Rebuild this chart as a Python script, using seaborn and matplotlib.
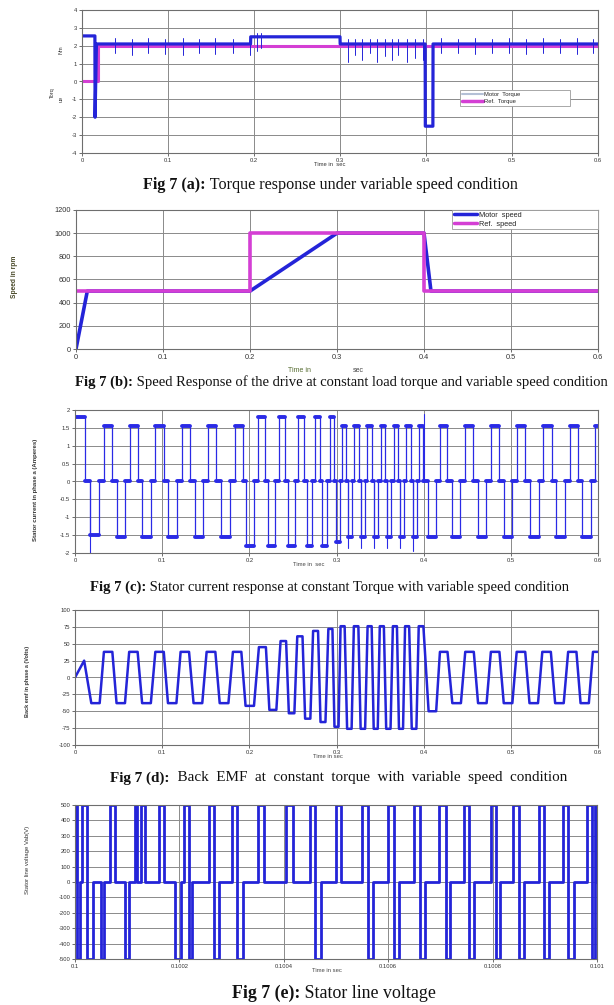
import numpy as np
import pandas as pd
import matplotlib
matplotlib.use("Agg")
import matplotlib.pyplot as plt
from matplotlib.lines import Line2D
import seaborn as sns

# ---------------- data ----------------
# (a) torque response (Nm vs s)
torque_base_t = [0.0, 0.015, 0.0152, 0.0168, 0.196, 0.1962, 0.300, 0.3002, 0.399, 0.3992, 0.408, 0.4082, 0.6]
torque_base_v = [2.55, 2.55, -2.0, 2.1, 2.1, 2.5, 2.5, 2.1, 2.1, -2.5, -2.5, 2.1, 2.1]
torque_spike_t = [0.038, 0.058, 0.077, 0.097, 0.117, 0.136, 0.155, 0.175, 0.195,
                  0.203, 0.208,
                  0.309, 0.318, 0.326, 0.335, 0.343, 0.352, 0.361, 0.368, 0.378, 0.387, 0.396,
                  0.4176, 0.4373, 0.4569, 0.4766, 0.4963, 0.5160, 0.5356, 0.5553, 0.5750, 0.5947]
torque_spike_lo = [1.6, 1.5, 1.6, 1.55, 1.5, 1.6, 1.55, 1.6, 1.5,
                   1.7, 1.9,
                   1.1, 1.5, 1.2, 1.6, 1.1, 1.4, 1.2, 1.5, 1.1, 1.3, 1.2,
                   1.6, 1.6, 1.55, 1.6, 1.6, 1.55, 1.6, 1.6, 1.55, 1.6]
torque_spike_hi = [2.45, 2.4, 2.45, 2.4, 2.45, 2.4, 2.45, 2.4, 2.45,
                   2.7, 2.7,
                   2.4, 2.35, 2.4, 2.35, 2.4, 2.35, 2.4, 2.35, 2.4, 2.35, 2.4,
                   2.45, 2.4, 2.45, 2.4, 2.45, 2.4, 2.45, 2.4, 2.45, 2.4]
ref_torque_t = [0.0, 0.019, 0.019, 0.6]
ref_torque_v = [0.0, 0.0, 2.0, 2.0]

# (b) speed response (rpm vs s)
speed_t = [0.0, 0.013, 0.2, 0.3, 0.4, 0.408, 0.6]
speed_v = [0, 500, 500, 1000, 1000, 500, 500]
ref_speed_t = [0.0, 0.2, 0.2, 0.4, 0.4, 0.6]
ref_speed_v = [500, 500, 1000, 1000, 500, 500]

# (c) stator current: centre time of each positive block, its level, level of following negative block
cur_top_t = [0.006, 0.038, 0.0676, 0.097, 0.1276, 0.157, 0.188,
             0.214, 0.2375, 0.2595, 0.2785, 0.2945,
             0.3085, 0.323, 0.338, 0.353, 0.368, 0.3825, 0.397,
             0.4225, 0.452, 0.482, 0.5115, 0.542, 0.5725, 0.601]
cur_top_v = [1.8, 1.55, 1.55, 1.55, 1.55, 1.55, 1.55,
             1.8, 1.8, 1.8, 1.8, 1.8,
             1.55, 1.55, 1.55, 1.55, 1.55, 1.55, 1.55,
             1.55, 1.55, 1.55, 1.55, 1.55, 1.55, 1.55]
cur_bot_v = [-1.5, -1.55, -1.55, -1.55, -1.55, -1.55, -1.8,
             -1.8, -1.8, -1.8, -1.8, -1.7,
             -1.55, -1.55, -1.55, -1.55, -1.55, -1.55, -1.55,
             -1.55, -1.55, -1.55, -1.55, -1.55, -1.55, -1.55]
cur_spike_t = [0.0168, 0.3135, 0.3285, 0.3435, 0.3585, 0.3730, 0.3875, 0.4000]
cur_spike_v = [-2.0, -1.85, -1.85, -1.85, -1.85, -1.85, -1.95, 1.9]

# (d) back EMF: start, then centre of each positive plateau, its level, level of following negative plateau
emf_pre_t = [0.0, 0.0105, 0.0187, 0.0283]
emf_pre_v = [0, 25, -38, -38]
emf_top_t = [0.038, 0.067, 0.097, 0.126, 0.156, 0.186,
             0.215, 0.239, 0.258, 0.276, 0.293,
             0.307, 0.3225, 0.338, 0.352, 0.367, 0.381, 0.397,
             0.423, 0.4526, 0.482, 0.5116, 0.541, 0.5705, 0.599]
emf_top_v = [38, 38, 38, 38, 38, 38,
             45, 54, 61, 69, 72,
             76, 76, 76, 76, 76, 76, 76,
             38, 38, 38, 38, 38, 38, 38]
emf_bot_v = [-38, -38, -38, -38, -38, -42,
             -48, -53, -61, -66, -73,
             -76, -76, -76, -76, -76, -76, -50,
             -38, -38, -38, -38, -38, -38, -38]

# (e) stator line voltage: pulses (start in microseconds after 0.1 s, width in microseconds)
pos_pulse_start = [0, 13, 67, 114, 126, 161, 209, 256, 300, 351, 405, 450, 500, 550,
                   600, 650, 698, 745, 796, 840, 889, 935, 980, 997]
pos_pulse_width = [4, 10, 10, 5, 8, 10, 10, 11, 10, 11, 12, 10, 10, 12,
                   12, 11, 12, 10, 10, 10, 9, 10, 10, 3]
neg_pulse_start = [4, 23, 49, 95, 192, 219, 267, 310, 460, 562, 612, 661,
                   710, 755, 806, 850, 898, 945, 990]
neg_pulse_width = [6, 12, 6, 8, 12, 6, 8, 12, 12, 8, 8, 10,
                   8, 10, 8, 10, 10, 10, 7]
dc_level = 500

# axes ticks
a_yticks = [-4, -3, -2, -1, 0, 1, 2, 3, 4]
b_yticks = [0, 200, 400, 600, 800, 1000, 1200]
c_yticks = [-2, -1.5, -1, -0.5, 0, 0.5, 1, 1.5, 2]
c_ylabels = ["-2", "-1.5", "-1", "-0.5", "0", "0.5", "1", "1.5", "2"]
d_yticks = [-100, -75, -50, -25, 0, 25, 50, 75, 100]
e_yticks = [-500, -400, -300, -200, -100, 0, 100, 200, 300, 400, 500]
t_ticks = [0, 0.1, 0.2, 0.3, 0.4, 0.5, 0.6]
t_labels = ["0", "0.1", "0.2", "0.3", "0.4", "0.5", "0.6"]
e_xticks = [0.1, 0.1002, 0.1004, 0.1006, 0.1008, 0.101]
e_xlabels = ["0.1", "0.1002", "0.1004", "0.1006", "0.1008", "0.101"]

cap_bold = ["Fig 7 (a):", "Fig 7 (b):", "Fig 7 (c):", "Fig 7 (d):", "Fig 7 (e):"]
cap_rest = [" Torque response under variable speed condition",
            " Speed Response of the drive at constant load torque and variable speed condition",
            " Stator current response at constant Torque with variable speed condition",
            "  Back  EMF  at  constant  torque  with  variable  speed  condition",
            " Stator line voltage"]

# ---------------- style ----------------
sns.set_theme(style="white")
plt.rcParams["font.family"] = ["Liberation Sans", "DejaVu Sans"]
BLUE = "#2424d8"
MAG = "#d43fd4"
GRID = "#8a8a8a"

W, H = 614, 1005
fig = plt.figure(figsize=(W / 100, H / 100), dpi=100)
fig.patch.set_facecolor("white")


def ax_at(l, t, r, b):
    return fig.add_axes([l / W, 1 - b / H, (r - l) / W, (b - t) / H])


def ftext(x, y, s, **kw):
    return fig.text(x / W, 1 - y / H, s, **kw)


def style(ax, xlim, ylim, xt, xl, yt, yl, fs=4.5):
    ax.set_xlim(*xlim)
    ax.set_ylim(*ylim)
    ax.set_xticks(xt)
    ax.set_xticklabels(xl)
    ax.set_yticks(yt)
    ax.set_yticklabels(yl)
    ax.grid(True, color=GRID, lw=0.7)
    ax.set_axisbelow(True)
    for sp in ax.spines.values():
        sp.set_color("#6e6e6e")
        sp.set_linewidth(0.8)
    ax.tick_params(length=2, width=0.5, pad=1.5, labelsize=fs, colors="#333333",
                   bottom=True, left=True)
    ax.set_xlabel("")
    ax.set_ylabel("")


def segments_df(ts_lo_hi):
    rows = []
    for k, (t0, t1, y0, y1) in enumerate(ts_lo_hi):
        rows.append((k, t0, y0))
        rows.append((k, t1, y1))
    return pd.DataFrame(rows, columns=["id", "t", "v"])


# ---------------- (a) torque ----------------
axA = ax_at(82, 10, 598, 153)
sns.lineplot(x=ref_torque_t, y=ref_torque_v, ax=axA, sort=False, estimator=None, color=MAG, lw=2.2)
sns.lineplot(x=torque_base_t, y=torque_base_v, ax=axA, sort=False, estimator=None, color=BLUE, lw=2.3)
spk = segments_df([(t, t, lo, hi) for t, lo, hi in zip(torque_spike_t, torque_spike_lo, torque_spike_hi)])
sns.lineplot(data=spk, x="t", y="v", units="id", estimator=None, sort=False, ax=axA, color=BLUE, lw=0.7)
style(axA, (0, 0.6), (-4, 4), t_ticks, t_labels, a_yticks, [str(v) for v in a_yticks], fs=4.2)
axA.legend(handles=[Line2D([], [], color="#b4c0d6", lw=1.5), Line2D([], [], color=MAG, lw=2.5)],
           labels=["Motor  Torque", "Ref.  Torque"], loc="upper left",
           bbox_to_anchor=(0.727, 0.315, 0.225, 0.145), mode="expand", fontsize=4.2,
           frameon=True, fancybox=False, edgecolor="#9a9a9a", framealpha=1,
           handlelength=3.5, borderpad=0.35, labelspacing=0.35, handletextpad=0.3)
axA.get_legend().get_frame().set_linewidth(0.6)
ftext(330, 165, "Time in  sec", fontsize=4.2, ha="center", va="center", color="#333333")
ftext(52, 93, "Torq", fontsize=4, rotation=90, ha="center", va="center", color="#333333")
ftext(61, 99, "ue", fontsize=4, rotation=90, ha="center", va="center", color="#333333")
ftext(61, 50, "Nm", fontsize=4, rotation=90, ha="center", va="center", color="#333333")

# ---------------- (b) speed ----------------
axB = ax_at(76, 210, 598, 349)
sns.lineplot(x=speed_t, y=speed_v, ax=axB, sort=False, estimator=None, color=BLUE, lw=2.6)
sns.lineplot(x=ref_speed_t, y=ref_speed_v, ax=axB, sort=False, estimator=None, color=MAG, lw=2.6)
style(axB, (0, 0.6), (0, 1200), t_ticks, t_labels, b_yticks, [str(v) for v in b_yticks], fs=5.3)
axB.legend(handles=[Line2D([], [], color=BLUE, lw=2.5), Line2D([], [], color=MAG, lw=2.5)],
           labels=["Motor  speed", "Ref.  speed"], loc="upper left",
           bbox_to_anchor=(0.72, 1.0, 0.28, 0.0), mode="expand", fontsize=5.3,
           frameon=True, fancybox=False, edgecolor="#9a9a9a", framealpha=1,
           handlelength=3.2, borderpad=0.25, labelspacing=0.2, handletextpad=0.2,
           borderaxespad=0)
axB.get_legend().get_frame().set_linewidth(0.6)
ftext(300, 370, "Time in", fontsize=5, ha="center", va="center", color="#556b2f")
ftext(358, 370, "sec", fontsize=5, ha="center", va="center", color="#444444")
ftext(15, 277, "Speed in rpm", fontsize=4.8, rotation=90, ha="center", va="center",
      color="#4a4a2a", fontweight="bold")

# ---------------- (c) stator current ----------------
ct, cv = [0.0], [cur_top_v[0]]
n = len(cur_top_t)
for i in range(n):
    tc = cur_top_t[i]
    P = cur_top_t[i + 1] - tc if i < n - 1 else tc - cur_top_t[i - 1]
    Pp = tc - cur_top_t[i - 1] if i > 0 else P
    h = min(P, Pp) / 6
    hb = P / 6
    m = tc + P / 2
    if i > 0:
        ct += [tc - h, tc - h]
        cv += [0, cur_top_v[i]]
    ct += [tc + h, tc + h, m - hb, m - hb, m + hb, m + hb]
    cv += [cur_top_v[i], 0, 0, cur_bot_v[i], cur_bot_v[i], 0]
axC = ax_at(75, 410, 598, 553)
sns.lineplot(x=ct, y=cv, ax=axC, sort=False, estimator=None, color="#2a2ae6", lw=0.9)
flat = [(ct[k], ct[k + 1], cv[k], cv[k + 1]) for k in range(len(ct) - 1)
        if cv[k] == cv[k + 1] and ct[k + 1] > ct[k]]
sns.lineplot(data=segments_df(flat), x="t", y="v", units="id", estimator=None, sort=False,
             ax=axC, color="#2a2ae6", lw=2.8)
cs = segments_df([(t, t, 0, v) for t, v in zip(cur_spike_t, cur_spike_v)])
sns.lineplot(data=cs, x="t", y="v", units="id", estimator=None, sort=False, ax=axC,
             color="#2a2ae6", lw=0.8)
style(axC, (0, 0.6), (-2, 2), t_ticks, t_labels, c_yticks, c_ylabels, fs=4.2)
ftext(309, 565, "Time in  sec", fontsize=4.2, ha="center", va="center", color="#444444")
ftext(35, 490, "Stator current in phase a (Amperes)", fontsize=4.3, rotation=90,
      ha="center", va="center", color="#333333", fontweight="bold")

# ---------------- (d) back EMF ----------------
et, ev = list(emf_pre_t), list(emf_pre_v)
n = len(emf_top_t)
for i in range(n):
    tc = emf_top_t[i]
    P = emf_top_t[i + 1] - tc if i < n - 1 else tc - emf_top_t[i - 1]
    Pp = tc - emf_top_t[i - 1] if i > 0 else P
    h = min(P, Pp) / 6
    hb = P / 6
    m = tc + P / 2
    et += [tc - h, tc + h, m - hb, m + hb]
    ev += [emf_top_v[i], emf_top_v[i], emf_bot_v[i], emf_bot_v[i]]
axD = ax_at(75, 610, 598, 745)
sns.lineplot(x=et, y=ev, ax=axD, sort=False, estimator=None, color=BLUE, lw=1.8)
style(axD, (0, 0.6), (-100, 100), t_ticks, t_labels, d_yticks, [str(v) for v in d_yticks], fs=4.2)
ftext(328, 756, "Time in sec", fontsize=4.2, ha="center", va="center", color="#444444")
ftext(28, 681, "Back emf in phase a (Volts)", fontsize=4, rotation=90,
      ha="center", va="center", color="#333333", fontweight="bold")

# ---------------- (e) line voltage ----------------
pulses = [(s, s + w, dc_level) for s, w in zip(pos_pulse_start, pos_pulse_width)]
pulses += [(s, s + w, -dc_level) for s, w in zip(neg_pulse_start, neg_pulse_width)]
pulses.sort()
vt, vv = [], []
for s, e, L in pulses:
    vt += [s, s, e, e]
    vv += [0, L, L, 0]
vt = [0.1 + u * 1e-6 for u in vt]
axE = ax_at(75, 805, 597, 959)
sns.lineplot(x=vt, y=vv, ax=axE, sort=False, estimator=None, color=BLUE, lw=2.0)
style(axE, (0.1, 0.101), (-500, 500), e_xticks, e_xlabels, e_yticks, [str(v) for v in e_yticks], fs=4.2)
ftext(327, 970, "Time in sec", fontsize=4.2, ha="center", va="center", color="#444444")
ftext(28, 860, "Stator line voltage Vab(V)", fontsize=4.3, rotation=90,
      ha="center", va="center", color="#333333")

# ---------------- captions ----------------
cap_x0 = [143, 75, 90, 110, 232]
cap_x1 = [517, 612, 572, 570, 437]
cap_y = [185, 382, 587, 778, 993]
renderer = fig.canvas.get_renderer()
for b, r, x0, x1, y in zip(cap_bold, cap_rest, cap_x0, cap_x1, cap_y):
    fs = 10
    kw = dict(family=["Liberation Serif", "DejaVu Serif"], va="center", ha="left", color="#111111")
    t1 = ftext(x0, y, b, fontsize=fs, fontweight="bold", **kw)
    t2 = ftext(x0, y, r, fontsize=fs, **kw)
    w = t1.get_window_extent(renderer).width + t2.get_window_extent(renderer).width
    fs2 = fs * (x1 - x0) / w
    t1.set_fontsize(fs2)
    t2.set_fontsize(fs2)
    w1 = t1.get_window_extent(renderer).width
    t2.set_position(((x0 + w1) / W, 1 - y / H))

fig.savefig("out.png", dpi=100, facecolor="white")
